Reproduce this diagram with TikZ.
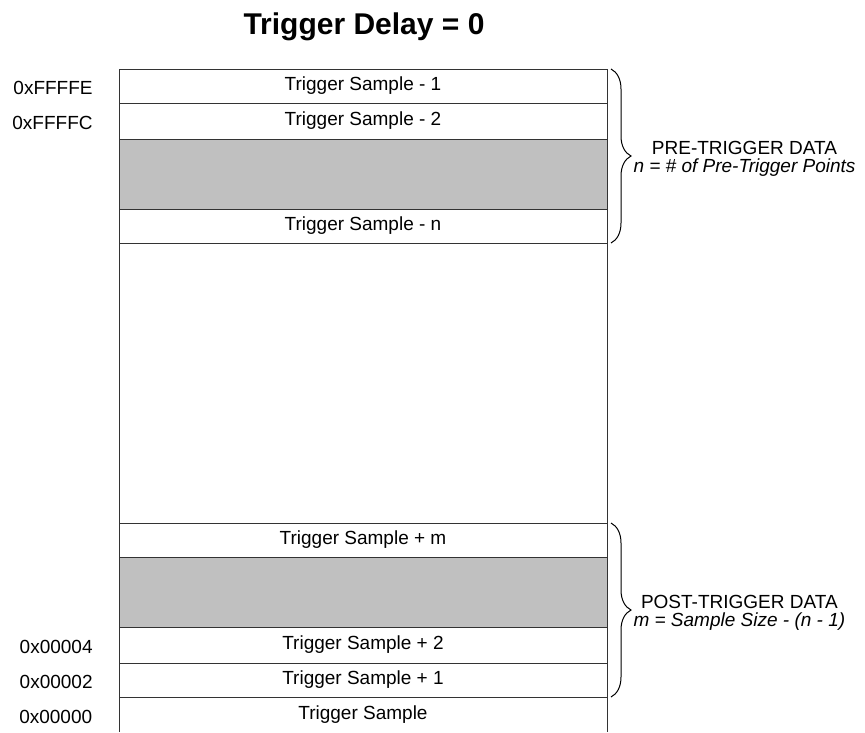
\documentclass[tikz,border=0pt]{standalone}
\usepackage{fontspec}
\setmainfont{Liberation Sans}
\usepackage{tikz}
\usetikzlibrary{positioning, decorations.pathreplacing}

\definecolor{gapgray}{HTML}{C0C0C0}
\definecolor{linegray}{HTML}{333333}

\tikzset{
    cell/.style={draw=linegray, fill=white, minimum width=488pt, minimum height=34pt,
                 inner sep=0pt, outer sep=0pt},
    filler/.style={cell, fill=gapgray, minimum height=70pt},
    addr/.style={inner sep=0pt, anchor=east, yshift=-2pt},
    brace/.style={decorate, decoration={brace, amplitude=20pt}, line width=1pt},
    bracelabel/.style={midway, anchor=west, xshift=22pt, yshift=-3pt, inner sep=0pt, align=center}
}

\begin{document}
\begin{tikzpicture}[x=1pt, y=1pt, node distance=0pt, line width=0.8pt,
                    font=\fontsize{19}{18}\selectfont]
            \useasboundingbox (0,0) rectangle (865,-732);
            \node[font=\fontsize{30}{30}\selectfont\bfseries] (title) at (364,-27) {Trigger Delay = 0};
            % pre-trigger part of the buffer
            \node[cell] (pre1) at (363,-86) {Trigger Sample - 1};
            \node[cell, minimum height=36pt] (pre2) [below=of pre1] {Trigger Sample - 2};
            \node[filler] (pregap) [below=of pre2] {};
            \node[cell] (pren) [below=of pregap] {Trigger Sample - n};
            % post-trigger part of the buffer
            \node[cell] (postm) at (363,-540) {Trigger Sample + m};
            \node[filler] (postgap) [below=of postm] {};
            \node[cell, minimum height=36pt] (post2) [below=of postgap] {Trigger Sample + 2};
            \node[cell] (post1) [below=of post2] {Trigger Sample + 1};
            \node[minimum width=488pt, minimum height=35pt, inner sep=0pt] (post0) [below=of post1] {Trigger Sample};
            % open sides run down to the bottom
            \coordinate (endl) at (119,-732);
            \coordinate (endr) at (607,-732);
            \draw[linegray] (pre1.north west) -- (endl);
            \draw[linegray] (pre1.north east) -- (endr);
            % addresses
            \node[addr] (a1) [left=26pt of pre1.west] {0xFFFFE};
            \node[addr] (a2) [left=26pt of pre2.west] {0xFFFFC};
            \node[addr] (a4) [left=26pt of post2.west] {0x00004};
            \node[addr] (a3) [left=26pt of post1.west] {0x00002};
            \node[addr] (a0) [left=26pt of post0.west] {0x00000};
            % braces
            \draw[brace] ([xshift=4pt]pre1.north east) -- ([xshift=4pt]pren.south east)
                node[bracelabel] (prelabel) {PRE-TRIGGER DATA\\\itshape n = \# of Pre-Trigger Points};
            \draw[brace] ([xshift=4pt]postm.north east) -- ([xshift=4pt]post1.south east)
                node[bracelabel] (postlabel) {POST-TRIGGER DATA\\\itshape m = Sample Size - (n - 1)};
        \end{tikzpicture}
\end{document}
